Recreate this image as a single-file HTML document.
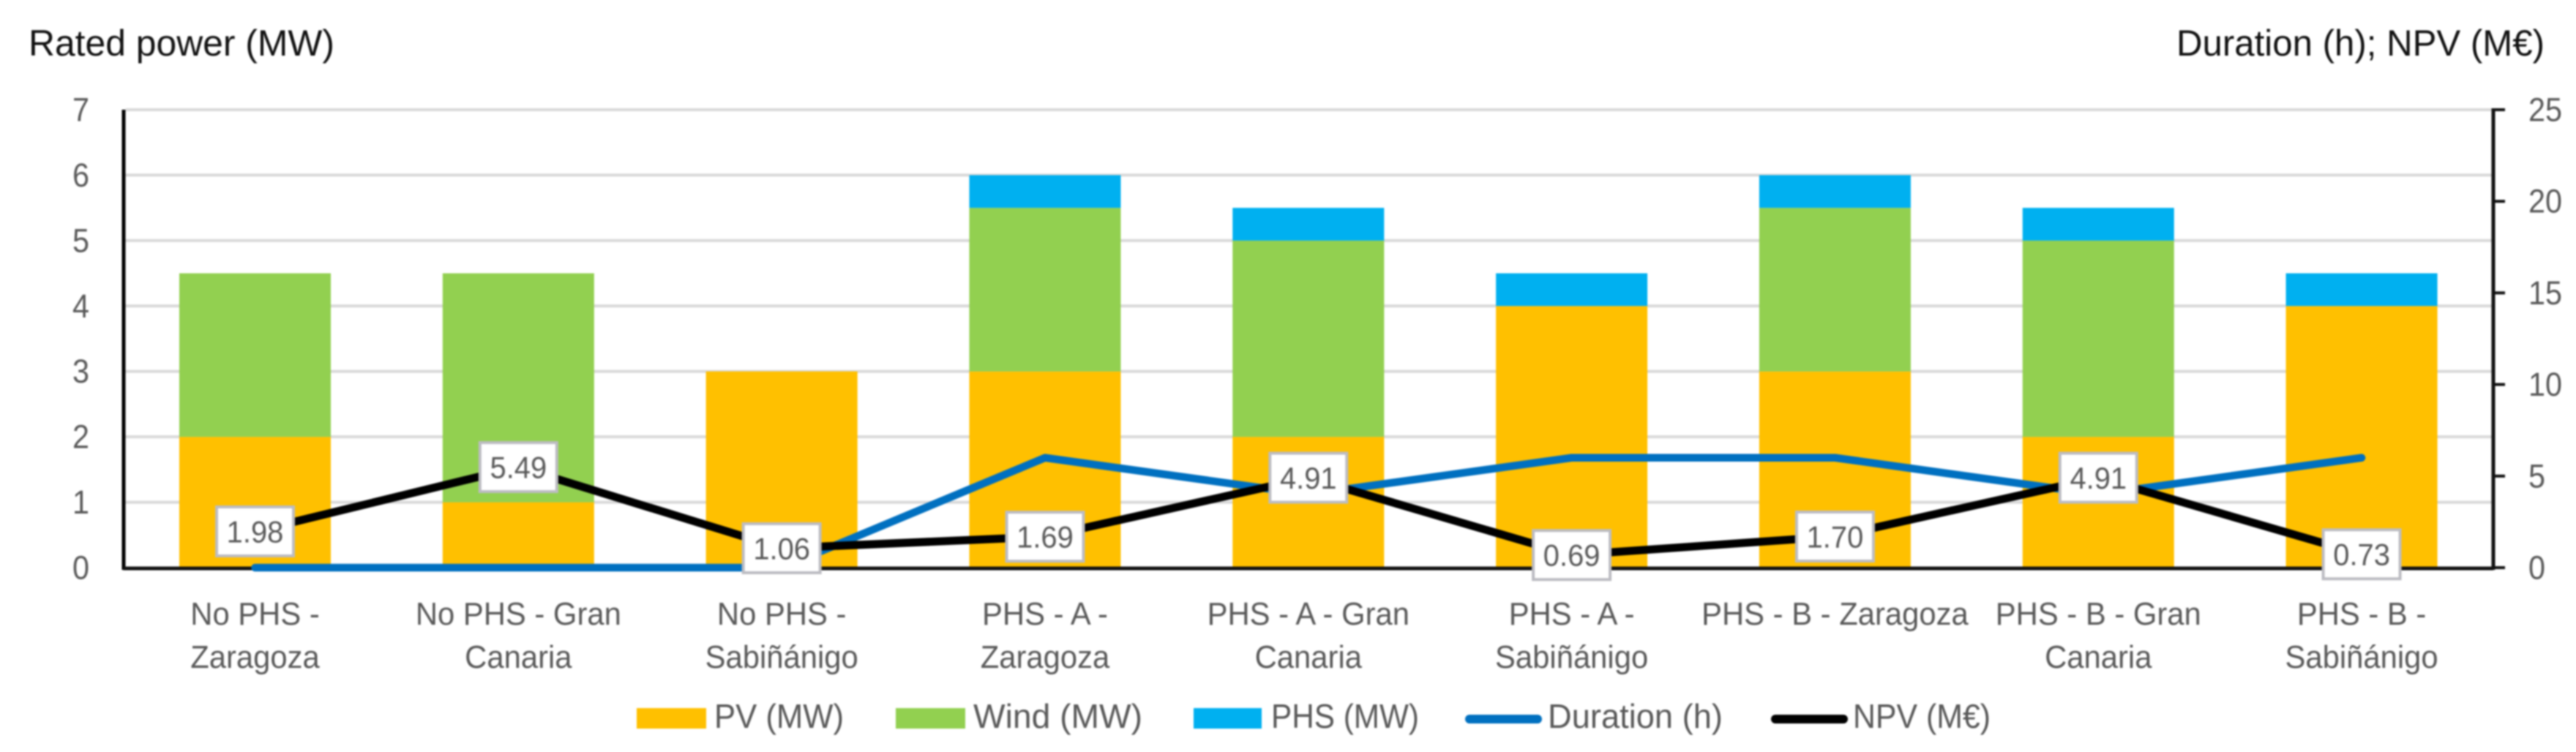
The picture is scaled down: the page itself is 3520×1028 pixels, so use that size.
<!DOCTYPE html>
<html lang="en">
<head>
<meta charset="utf-8">
<title>Rated power, duration and NPV by scenario</title>
<style>
html,body{margin:0;padding:0;background:#fff;width:3520px;height:1028px;overflow:hidden}
svg{display:block;filter:blur(1px)}
text{font-family:"Liberation Sans",sans-serif}
.tick{font-size:45px;fill:#595959}
.title{font-size:50px;fill:#111}
.leg{font-size:46px;fill:#595959}
.cat{font-size:44px;fill:#595959;text-anchor:middle}
.lab{font-size:42px;fill:#595959;text-anchor:middle}
</style>
</head>
<body>
<svg id="chart" xmlns="http://www.w3.org/2000/svg" width="3520" height="1028" viewBox="0 0 3520 1028">
  <rect x="0" y="0" width="3520" height="1028" fill="#fff"/>
  <g id="grid"></g>
  <g id="bars"></g>
  <g id="axes"></g>
  <g id="lines"></g>
  <g id="labels"></g>
  <g id="cats"></g>
  <text class="title" x="39" y="76" textLength="418" lengthAdjust="spacingAndGlyphs">Rated power (MW)</text>
  <text class="title" x="2974" y="76" textLength="503" lengthAdjust="spacingAndGlyphs">Duration (h); NPV (M€)</text>
  <g>
    <rect x="870" y="968" width="95" height="28" fill="#ffc000"/>
    <text class="leg" x="976" y="995" textLength="177" lengthAdjust="spacingAndGlyphs">PV (MW)</text>
    <rect x="1224" y="968" width="95" height="28" fill="#92d050"/>
    <text class="leg" x="1330" y="995" textLength="231" lengthAdjust="spacingAndGlyphs">Wind (MW)</text>
    <rect x="1631" y="968" width="93" height="28" fill="#00b0f0"/>
    <text class="leg" x="1737" y="995" textLength="202" lengthAdjust="spacingAndGlyphs">PHS (MW)</text>
    <line x1="2008" y1="983" x2="2101" y2="983" stroke="#0070c0" stroke-width="12" stroke-linecap="round"/>
    <text class="leg" x="2115" y="995" textLength="239" lengthAdjust="spacingAndGlyphs">Duration (h)</text>
    <line x1="2426" y1="983" x2="2519" y2="983" stroke="#000" stroke-width="12" stroke-linecap="round"/>
    <text class="leg" x="2532" y="995" textLength="188" lengthAdjust="spacingAndGlyphs">NPV (M€)</text>
  </g>
</svg>
<script>
const categories = [
  ["No PHS -", "Zaragoza"],
  ["No PHS - Gran", "Canaria"],
  ["No PHS -", "Sabiñánigo"],
  ["PHS - A -", "Zaragoza"],
  ["PHS - A - Gran", "Canaria"],
  ["PHS - A -", "Sabiñánigo"],
  ["PHS - B - Zaragoza"],
  ["PHS - B - Gran", "Canaria"],
  ["PHS - B -", "Sabiñánigo"]
];
const pvValues = [2, 1, 3, 3, 2, 4, 3, 2, 4];
const windValues = [2.5, 3.5, 0, 2.5, 3, 0, 2.5, 3, 0];
const phsValues = [0, 0, 0, 0.5, 0.5, 0.5, 0.5, 0.5, 0.5];
const durationValues = [0, 0, 0, 6, 4, 6, 6, 4, 6];
const npvValues = [1.98, 5.49, 1.06, 1.69, 4.91, 0.69, 1.70, 4.91, 0.73];
const leftTicks = [0, 1, 2, 3, 4, 5, 6, 7];
const rightTicks = [0, 5, 10, 15, 20, 25];

const NS = "http://www.w3.org/2000/svg";
const plotLeft = 168.6, plotRight = 3407, plotTop = 150, plotBottom = 776;
const leftMax = 7, rightMax = 25, barWidth = 207;
const bandWidth = (plotRight - plotLeft) / categories.length;

function xBand(i) { return plotLeft + bandWidth * (i + 0.5); }
function yLeft(v) { return plotBottom - (v / leftMax) * (plotBottom - plotTop); }
function yRight(v) { return plotBottom - (v / rightMax) * (plotBottom - plotTop); }

function make(tag, attrs, parent) {
  const el = document.createElementNS(NS, tag);
  for (const k in attrs) el.setAttribute(k, attrs[k]);
  parent.appendChild(el);
  return el;
}
function squeeze(x, y, sx) { return "translate(" + x + "," + y + ") scale(" + sx + ",1)"; }

const grid = document.getElementById("grid");
const bars = document.getElementById("bars");
const axes = document.getElementById("axes");
const lines = document.getElementById("lines");
const labels = document.getElementById("labels");
const cats = document.getElementById("cats");

leftTicks.forEach(function (t) {
  if (t !== 0) {
    const g = make("line", { x1: plotLeft + 3, x2: plotRight, y1: yLeft(t), y2: yLeft(t), stroke: "#d9d9d9", "stroke-width": 4 }, grid);
    
    
  }
  const tl = make("text", { class: "tick", transform: squeeze(122, yLeft(t) + 15.5, 0.92), "text-anchor": "end" }, axes);
  
  
  tl.textContent = t;
});

categories.forEach(function (c, i) {
  const x = xBand(i) - barWidth / 2;
  const pv = make("rect", { x: x, width: barWidth, y: yLeft(pvValues[i]), height: yLeft(0) - yLeft(pvValues[i]), fill: "#ffc000" }, bars);
  
  
  const s1 = pvValues[i] + windValues[i];
  const w = make("rect", { x: x, width: barWidth, y: yLeft(s1), height: yLeft(pvValues[i]) - yLeft(s1), fill: "#92d050" }, bars);
  
  
  const s2 = s1 + phsValues[i];
  const p = make("rect", { x: x, width: barWidth, y: yLeft(s2), height: yLeft(s1) - yLeft(s2), fill: "#00b0f0" }, bars);
  
  

  c.forEach(function (line, j) {
    const t = make("text", { class: "cat", transform: squeeze(xBand(i), 854 + j * 59, 0.95) }, cats);
    
    
    t.textContent = line;
  });
});

const leftAxis = make("line", { x1: plotLeft + 0.4, x2: plotLeft + 0.4, y1: plotTop, y2: plotBottom + 3, stroke: "#000", "stroke-width": 5 }, axes);


const xAxis = make("line", { x1: plotLeft, x2: plotRight, y1: plotBottom + 1, y2: plotBottom + 1, stroke: "#111", "stroke-width": 5 }, axes);


const rightAxis = make("line", { x1: plotRight, x2: plotRight, y1: plotTop - 2, y2: plotBottom + 3, stroke: "#111", "stroke-width": 5 }, axes);



rightTicks.forEach(function (t) {
  const m = make("line", { x1: plotRight, x2: plotRight + 16, y1: yRight(t), y2: yRight(t), stroke: "#111", "stroke-width": 4 }, axes);
  
  
  const tl = make("text", { class: "tick", transform: squeeze(3455, yRight(t) + 15.5, 0.92) }, axes);
  
  
  tl.textContent = t;
});

function pointsFor(values) {
  return values.map(function (v, i) { return xBand(i) + "," + yRight(v); }).join(" ");
}
const durationLine = make("polyline", { points: pointsFor(durationValues), fill: "none", stroke: "#0070c0", "stroke-width": 10.5, "stroke-linecap": "round", "stroke-linejoin": "round" }, lines);


const npvLine = make("polyline", { points: pointsFor(npvValues), fill: "none", stroke: "#000", "stroke-width": 11, "stroke-linecap": "round", "stroke-linejoin": "round" }, lines);



npvValues.forEach(function (v, i) {
  const cx = xBand(i), cy = yRight(v);
  const box = make("rect", { x: cx - 52.5, y: cy - 33.5, width: 105, height: 67, fill: "#fff", stroke: "#bcbcc2", "stroke-width": 4 }, labels);
  
  
  const t = make("text", { class: "lab", transform: squeeze(cx, cy + 15, 0.95) }, labels);
  
  
  t.textContent = v.toFixed(2);
});
</script>
</body>
</html>
